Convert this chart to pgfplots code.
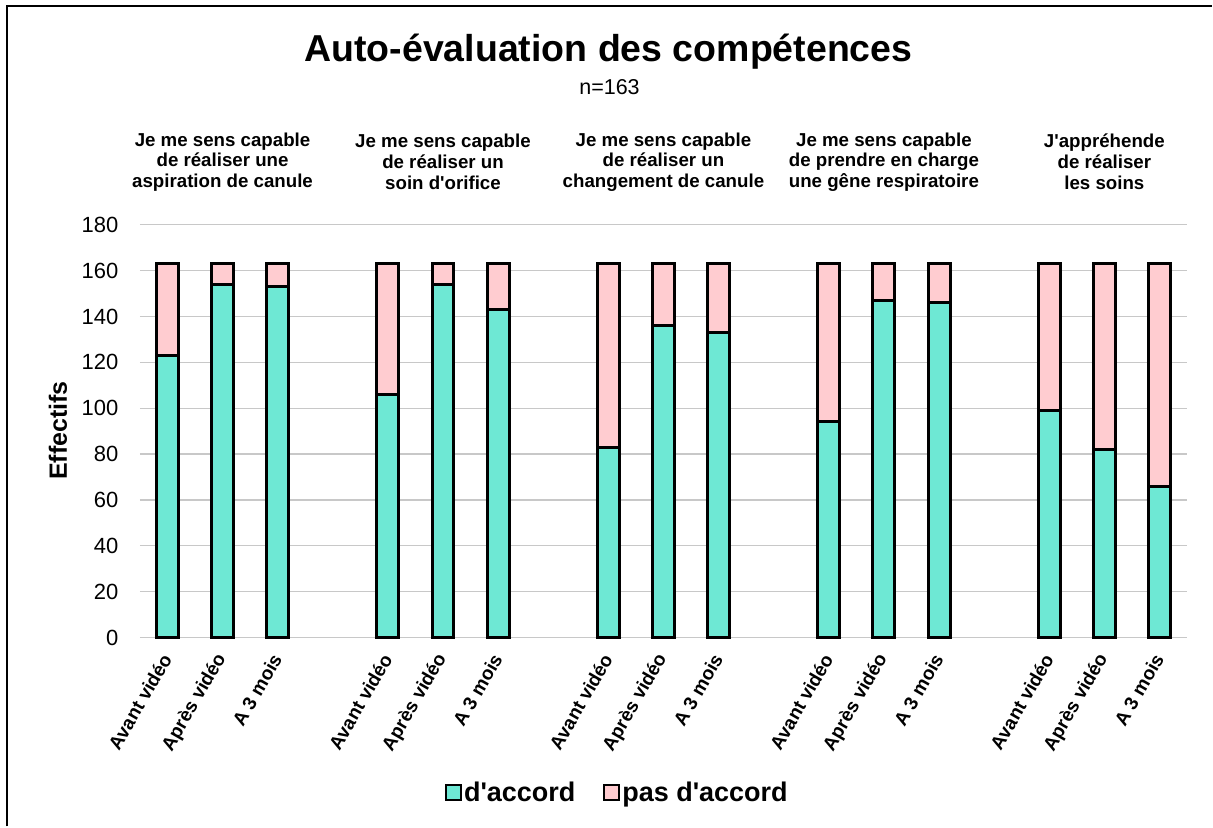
\documentclass[border=0pt]{standalone}
\usepackage{pgfplots}
\pgfplotsset{compat=1.18}
\usepackage{pgfplotstable}
\usepackage{fontspec}
\setmainfont{Liberation Sans}[Ligatures=TeXOff]
\definecolor{vert}{RGB}{110,232,212}
\definecolor{rose}{RGB}{255,204,208}
\definecolor{grille}{RGB}{200,200,200}
\tikzset{grp/.style={align=center, font=\fontsize{18.7}{20.8}\selectfont\bfseries}}

\pgfplotstableread{
x  accord  pasaccord
0  123  40
1  154  9
2  153  10
4  106  57
5  154  9
6  143  20
8  83   80
9  136  27
10 133  30
12 94   69
13 147  16
14 146  17
16 99   64
17 82   81
18 66   97
}\donnees

\begin{document}
\begin{tikzpicture}
\path (0pt,0pt) rectangle (1213pt,827pt);
\draw[line width=2pt] (7pt,0pt) -- (7pt,821pt) -- (1213pt,821pt);
\begin{axis}[
  at={(140pt,189pt)}, anchor=south west,
  scale only axis, width=1048pt, height=413pt,
  ybar stacked, bar width=22pt,
  xmin=-0.5, xmax=18.5, ymin=0, ymax=180,
  ytick={0,20,...,180},
  xtick={0,1,2,4,5,6,8,9,10,12,13,14,16,17,18},
  xticklabels={Avant vidéo,Après vidéo,A 3 mois,Avant vidéo,Après vidéo,A 3 mois,Avant vidéo,Après vidéo,A 3 mois,Avant vidéo,Après vidéo,A 3 mois,Avant vidéo,Après vidéo,A 3 mois},
  ymajorgrids, grid style={grille, line width=1.3pt},
  axis line style={draw=none},
  major tick length=0pt,
  clip=false,
  /pgf/number format/assume math mode=true,
  yticklabel style={font=\fontsize{22}{24}\selectfont, xshift=-18pt},
  xticklabel style={font=\fontsize{19}{21}\selectfont\bfseries, xshift=1pt, yshift=-15pt, rotate=60, anchor=east},
  legend style={at={(0.456,-0.375)}, anchor=center, draw=none, legend columns=2,
    font=\fontsize{27}{30}\selectfont\bfseries,
    /tikz/every even column/.append style={column sep=26pt}},
  legend image code/.code={\draw[#1,line width=2pt] (0pt,-7.5pt) rectangle (15pt,7.5pt);},
]
\addplot[fill=vert, draw=black, line width=3pt] table[x=x, y=accord] {\donnees};
\addplot[fill=rose, draw=black, line width=3pt] table[x=x, y=pasaccord] {\donnees};
\legend{d'accord, pas d'accord}
\node[grp] at (axis cs:1,207.4) {Je me sens capable\\de réaliser une\\aspiration de canule};
\node[grp] at (axis cs:5,207.4) {Je me sens capable\\de réaliser un\\soin d'orifice};
\node[grp] at (axis cs:9,207.4) {Je me sens capable\\de réaliser un\\changement de canule};
\node[grp] at (axis cs:13,207.4) {Je me sens capable\\de prendre en charge\\une gêne respiratoire};
\node[grp] at (axis cs:17,207.4) {J'appréhende\\de réaliser\\les soins};
\end{axis}
\node[anchor=base, font=\fontsize{37.5}{40}\selectfont\bfseries] at (609pt,765pt) {Auto-évaluation des compétences};
\node[anchor=base, font=\fontsize{21.5}{24}\selectfont] at (610pt,732pt) {n=163};
\node[rotate=90, font=\fontsize{25}{27}\selectfont\bfseries] at (58pt,396pt) {Effectifs};
\end{tikzpicture}
\end{document}
